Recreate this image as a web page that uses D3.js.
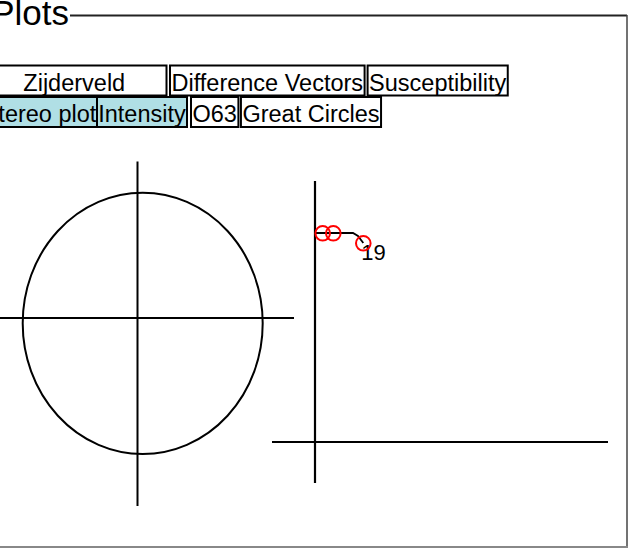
<!DOCTYPE html>
<html>
<head>
<meta charset="utf-8">
<script src="https://cdn.jsdelivr.net/npm/d3@7"></script>
<style>
  body { margin: 0; background: #fff; overflow: hidden; }
  text { font-family: 'Liberation Sans', Arial, sans-serif; }
</style>
</head>
<body>
<svg id="chart" width="629" height="549"></svg>
<script>
// data
let panelTitle = 'Plots'
let tabsRow1 = ['Zijderveld', 'Difference Vectors', 'Susceptibility']
let tabsRow2 = ['Stereo plot', 'Intensity', 'O63', 'Great Circles']
let activeTabs = ['Stereo plot', 'Intensity']
// zijderveld points (east, up), arbitrary units
let zijX = [0.77, 1.83, 4.83]
let zijY = [20.87, 20.87, 19.87]
let zijLabels = ['', '', '19']
// trace through the steps
let traceX = [0, 0.77, 1.83, 3.8, 4.3, 4.83]
let traceY = [20.9, 20.9, 20.9, 20.9, 20.6, 19.9]

let svg = d3.select('#chart')

// frame
svg.append('line').attr('x1', 70).attr('y1', 15.5).attr('x2', 627).attr('y2', 15.5)
    .attr('stroke', '#222').attr('stroke-width', 2)
svg.append('line').attr('x1', 627).attr('y1', 15).attr('x2', 627).attr('y2', 547)
    .attr('stroke', '#444').attr('stroke-width', 1.5)
svg.append('line').attr('x1', 0).attr('y1', 547).attr('x2', 628).attr('y2', 547)
    .attr('stroke', '#888').attr('stroke-width', 2)
svg.append('text').attr('x', 69).attr('y', 25).attr('text-anchor', 'end')
    .attr('font-size', 35).text(panelTitle)

// tabs
function drawTabs(labels, top, startX, fixedWidth, gaps) {
    let x = startX
    labels.forEach((label, i) => {
        let g = svg.append('g')
        let t = g.append('text').attr('y', top + 25).attr('font-size', 23.5).text(label)
        let tw = t.node().getComputedTextLength()
        let w = fixedWidth[i] || tw + 3
        t.attr('x', x + w / 2).attr('text-anchor', 'middle')
        g.insert('rect', 'text').attr('x', x).attr('y', top).attr('width', w).attr('height', 30)
            .attr('fill', activeTabs.indexOf(label) !== -1 ? '#b0dfe5' : '#fff')
            .attr('stroke', '#000').attr('stroke-width', 2)
        x += w + (gaps[i] || 0)
    })
}
drawTabs(tabsRow1, 65.5, -18, [184.5], [3.5, 3, 0])
drawTabs(tabsRow2, 97, -18, [115, 90], [0, 4, 2.5, 0])

// stereo plot
let sx = d3.scaleLinear().domain([-1, 1]).range([22.7, 262.7])
let sy = d3.scaleLinear().domain([-1, 1]).range([454, 192.7])
let stereo = svg.append('g')
stereo.append('line').attr('x1', 0).attr('x2', 294).attr('y1', 318).attr('y2', 318)
    .attr('stroke', '#000').attr('stroke-width', 2)
stereo.append('line').attr('x1', 137.5).attr('x2', 137.5).attr('y1', 161.5).attr('y2', 506)
    .attr('stroke', '#000').attr('stroke-width', 2)
stereo.append('ellipse')
    .attr('cx', sx(0)).attr('cy', sy(0))
    .attr('rx', sx(1) - sx(0)).attr('ry', sy(-1) - sy(0))
    .attr('fill', 'none').attr('stroke', '#000').attr('stroke-width', 2)

// zijderveld plot
let zx = d3.scaleLinear().domain([-4.3, 29.3]).range([272, 608])
let zy = d3.scaleLinear().domain([-4.1, 26.1]).range([483, 181])
let zij = svg.append('g')
zij.append('line').attr('x1', zx.range()[0]).attr('x2', zx.range()[1]).attr('y1', zy(0)).attr('y2', zy(0))
    .attr('stroke', '#000').attr('stroke-width', 2.2)
zij.append('line').attr('x1', zx(0)).attr('x2', zx(0)).attr('y1', zy.range()[0]).attr('y2', zy.range()[1])
    .attr('stroke', '#000').attr('stroke-width', 2.2)
let trace = traceX.map((d, i) => [d, traceY[i]])
zij.append('path').datum(trace)
    .attr('d', d3.line().x(d => zx(d[0])).y(d => zy(d[1])))
    .attr('fill', 'none').attr('stroke', '#000').attr('stroke-width', 1.8)
zij.selectAll('text.lbl').data(zijLabels).enter().append('text')
    .attr('class', 'lbl')
    .attr('x', (d, i) => zx(zijX[i]) - 2)
    .attr('y', (d, i) => zy(zijY[i]) + 17)
    .attr('font-size', 22)
    .text(d => d)
zij.selectAll('circle').data(zijX).enter().append('circle')
    .attr('cx', d => zx(d))
    .attr('cy', (d, i) => zy(zijY[i]))
    .attr('r', 7.3)
    .attr('fill', 'none').attr('stroke', '#f00').attr('stroke-width', 2)
</script>
</body>
</html>
